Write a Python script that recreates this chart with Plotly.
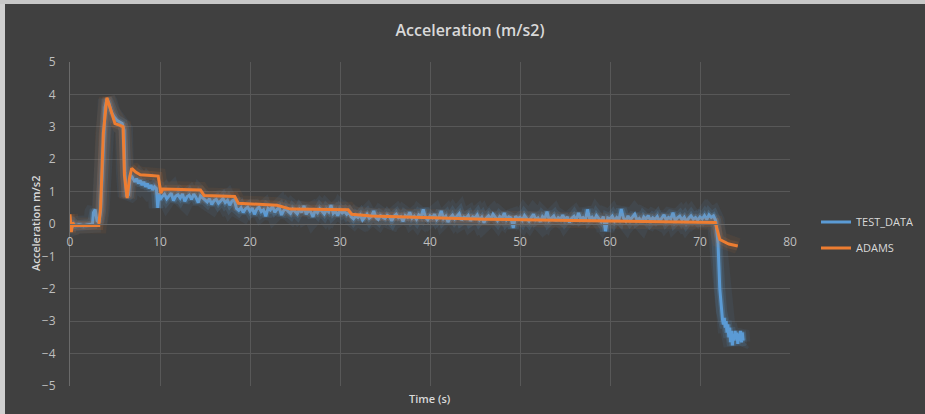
import numpy as np
import plotly.graph_objects as go

# ---------------- data ----------------
# TEST_DATA, start-up section (explicit samples)
test_early_t = [0.0, 0.2, 0.4, 0.6, 1.0, 1.5, 2.0, 2.5, 2.6, 2.8, 3.0, 3.2, 3.4, 3.7, 3.9, 4.1, 4.3,
                4.6, 4.9, 5.2, 5.5, 5.8, 6.0, 6.1, 6.3, 6.5, 6.7, 6.9, 7.2, 7.4, 7.6, 7.8, 8.0, 8.2,
                8.4, 8.6, 8.8, 9.0, 9.2, 9.4, 9.6, 9.75, 9.9]
test_early_a = [0.1, -0.1, 0.0, -0.05, -0.02, -0.05, -0.02, 0.0, 0.35, 0.45, 0.1, 0.05, 0.4, 2.5, 3.6, 3.85, 3.75,
                3.45, 3.3, 3.2, 3.15, 3.1, 2.9, 1.6, 0.85, 0.9, 1.5, 1.45, 1.3, 1.4, 1.25, 1.35, 1.2, 1.3,
                1.15, 1.25, 1.1, 1.2, 1.05, 1.15, 1.1, 0.5, 0.95]

# TEST_DATA, main section sampled every 0.25 s from 10.0 s to 71.5 s
test_mid_start = 10.0
test_mid_step = 0.25
test_mid_a = [
    0.75, 0.85, 0.92, 0.78, 0.88, 0.95, 0.72, 0.86, 0.90, 0.80, 0.93, 0.70, 0.84, 0.89, 0.76, 0.92, 0.82, 0.66, 0.87, 0.80,
    0.74, 0.68, 0.78, 0.60, 0.72, 0.76, 0.64, 0.70, 0.79, 0.66, 0.73, 0.58, 0.71, 0.75, 0.48, 0.42, 0.50, 0.36, 0.47, 0.52,
    0.40, 0.49, 0.30, 0.46, 0.52, 0.38, 0.44, 0.24, 0.48, 0.43, 0.55, 0.36, 0.45, 0.50, 0.28, 0.42, 0.47, 0.39, 0.33, 0.46,
    0.40, 0.32, 0.45, 0.36, 0.56, 0.30, 0.41, 0.38, 0.22, 0.43, 0.35, 0.47, 0.39, 0.31, 0.44, 0.37, 0.58, 0.33, 0.40, 0.26,
    0.42, 0.34, 0.39, 0.30, 0.36, 0.22, 0.16, 0.25, 0.20, 0.28, 0.12, 0.23, 0.30, 0.18, 0.24, 0.40, 0.20, 0.14, 0.26, 0.21,
    0.17, 0.27, 0.22, 0.10, 0.24, 0.30, 0.19, 0.23, 0.08, 0.26, 0.21, 0.36, 0.18, 0.24, 0.15, 0.28, 0.22, 0.45, 0.20, 0.13,
    0.25, 0.19, 0.30, 0.14, 0.22, 0.40, 0.17, 0.24, 0.06, 0.20, 0.27, 0.16, 0.23, 0.32, 0.12, 0.21, 0.18, 0.26, 0.10, 0.22,
    0.19, 0.28, 0.13, 0.21, 0.04, 0.18, 0.25, 0.15, 0.30, 0.20, 0.11, 0.23, 0.17, 0.34, 0.14, 0.22, 0.19, -0.12, 0.24, 0.16,
    0.21, 0.12, 0.26, 0.17, 0.09, 0.20, 0.30, 0.14, 0.19, 0.07, 0.23, 0.16, 0.38, 0.12, 0.18, 0.25, 0.10, 0.20, 0.15, 0.27,
    0.13, 0.22, 0.05, 0.18, 0.24, 0.12, 0.34, 0.16, 0.20, 0.09, 0.45, 0.15, 0.21, 0.11, 0.26, 0.17, 0.08, 0.23, -0.22, 0.19,
    0.16, 0.24, 0.10, 0.20, 0.14, 0.46, 0.18, 0.09, 0.25, 0.13, 0.21, 0.30, 0.12, 0.17, 0.06, 0.22, 0.15, 0.26, 0.11, 0.19,
    0.14, 0.23, 0.08, 0.18, 0.28, 0.12, 0.20, 0.16, 0.35, 0.10, 0.19, 0.24, 0.13, 0.21, 0.07, 0.18, 0.25, 0.15, 0.20, 0.12,
    0.22, 0.16, 0.26, 0.14, 0.28, 0.20, 0.25,
]

# TEST_DATA, braking section (explicit samples)
test_end_t = [71.75, 72.0, 72.2, 72.4, 72.5, 72.6, 72.7, 72.8, 72.9, 73.0, 73.1, 73.2, 73.3, 73.4, 73.5,
              73.6, 73.7, 73.8, 73.9, 74.0, 74.1, 74.2, 74.3, 74.4, 74.5, 74.6, 74.7, 74.8]
test_end_a = [0.10, -0.6, -2.0, -2.7, -2.95, -3.1, -2.9, -3.2, -3.0, -3.35, -3.1, -3.5, -3.2, -3.65, -3.3,
              -3.75, -3.4, -3.6, -3.3, -3.55, -3.35, -3.7, -3.4, -3.6, -3.3, -3.65, -3.35, -3.6]

# ADAMS simulation
adams_t = [0.0, 0.15, 0.3, 0.5, 3.2, 3.4, 3.7, 4.1, 4.5, 5.0, 5.5, 5.9, 6.05, 6.35, 6.6, 6.85, 7.3, 7.8, 9.0,
           9.8, 10.1, 10.3, 14.5, 14.9, 18.3, 18.7, 23.0, 24.5, 30.9, 31.3, 33.5, 40.7, 46.0, 52.0, 60.0,
           71.5, 71.7, 72.2, 73.2, 74.2]
adams_a = [0.3, -0.25, 0.05, -0.05, -0.05, 0.5, 2.8, 3.9, 3.55, 3.1, 3.05, 3.0, 1.5, 0.8, 1.4, 1.72, 1.6, 1.52, 1.5,
           1.48, 0.95, 1.08, 1.05, 0.88, 0.85, 0.64, 0.58, 0.46, 0.44, 0.3, 0.25, 0.18, 0.15, 0.12, 0.1,
           0.07, 0.05, -0.48, -0.62, -0.68]

x_ticks = [0, 10, 20, 30, 40, 50, 60, 70, 80]
y_ticks = [-5, -4, -3, -2, -1, 0, 1, 2, 3, 4, 5]

# ---------------- build ----------------
test_mid_t = list(test_mid_start + test_mid_step * np.arange(len(test_mid_a)))
test_t = test_early_t + test_mid_t + test_end_t
test_a = test_early_a + test_mid_a + test_end_a

BLUE = "#5b9bd5"
ORANGE = "#ed7d31"
BG = "#404040"
GRID = "#585858"
TXT = "#bfbfbf"
FONT = "Open Sans"

fig = go.Figure()

# soft glow layers
for w, op in [(18, 0.08), (11, 0.14), (6, 0.25)]:
    fig.add_trace(go.Scatter(x=test_t, y=test_a, mode="lines", showlegend=False, hoverinfo="skip",
                             line=dict(color=f"rgba(91,155,213,{op})", width=w)))
fig.add_trace(go.Scatter(x=test_t, y=test_a, mode="lines", name="TEST_DATA",
                         line=dict(color=BLUE, width=3), legend="legend"))
for w, op in [(16, 0.07), (9, 0.13)]:
    fig.add_trace(go.Scatter(x=adams_t, y=adams_a, mode="lines", showlegend=False, hoverinfo="skip",
                             line=dict(color=f"rgba(237,125,49,{op})", width=w)))
fig.add_trace(go.Scatter(x=adams_t, y=adams_a, mode="lines", name="ADAMS",
                         line=dict(color=ORANGE, width=3), legend="legend2"))

L, R, T, B = 70, 135, 62, 28
W, H = 925, 414
pw, ph = W - L - R, H - T - B

def px_to_paper_x(px):
    return (px - L) / pw

def px_to_paper_y(py):
    return (H - B - py) / ph

fig.update_layout(
    width=W, height=H,
    margin=dict(l=L, r=R, t=T, b=B, autoexpand=False),
    paper_bgcolor=BG, plot_bgcolor=BG,
    font=dict(family=FONT, color=TXT, size=12),
    title=dict(text="Acceleration (m/s2)", x=470 / W, xref="container", xanchor="center",
               y=1 - 30 / H, yref="container", yanchor="middle",
               font=dict(family=FONT, size=16, color="#d9d9d9", weight=600)),
    xaxis=dict(range=[0, 80], tickvals=x_ticks, showgrid=True, gridcolor=GRID, gridwidth=1,
               zeroline=False, anchor="free", position=0.5, showline=True, linecolor="#6a6a6a",
               linewidth=1, ticks="", ticklabelstandoff=7, tickfont=dict(size=12, color=TXT)),
    yaxis=dict(range=[-5, 5], tickvals=y_ticks, showgrid=True, gridcolor=GRID, gridwidth=1,
               zeroline=False, showline=True, linecolor="#6a6a6a", linewidth=1, ticks="",
               ticklabelstandoff=11, tickfont=dict(size=12, color=TXT)),
    legend=dict(x=px_to_paper_x(816), y=px_to_paper_y(222), xanchor="left", yanchor="middle",
                bgcolor="rgba(0,0,0,0)", font=dict(size=11, color="#d9d9d9", family=FONT)),
    legend2=dict(x=px_to_paper_x(816), y=px_to_paper_y(248), xanchor="left", yanchor="middle",
                 bgcolor="rgba(0,0,0,0)", font=dict(size=11, color="#d9d9d9", family=FONT)),
    annotations=[
        dict(text="Time (s)", x=0.5, y=px_to_paper_y(398), xref="paper", yref="paper",
             showarrow=False, xanchor="center", yanchor="middle",
             font=dict(size=11, color="#d9d9d9", family=FONT, weight=600)),
        dict(text="Acceleration m/s2", x=px_to_paper_x(35), y=0.5, xref="paper", yref="paper",
             showarrow=False, textangle=-90, xanchor="center", yanchor="middle",
             font=dict(size=11, color="#d9d9d9", family=FONT, weight=600)),
    ],
    shapes=[
        dict(type="rect", xref="paper", yref="paper",
             x0=px_to_paper_x(0), x1=px_to_paper_x(5), y0=px_to_paper_y(414), y1=px_to_paper_y(0),
             fillcolor="#d0d0d0", line=dict(width=0), layer="above"),
        dict(type="rect", xref="paper", yref="paper",
             x0=px_to_paper_x(0), x1=px_to_paper_x(925), y0=px_to_paper_y(4), y1=px_to_paper_y(0),
             fillcolor="#c8c8c8", line=dict(width=0), layer="above"),
    ],
)

fig.write_html("out.html", config={"displayModeBar": False},
               post_script="document.body.style.margin='0';document.body.style.overflow='hidden';")
